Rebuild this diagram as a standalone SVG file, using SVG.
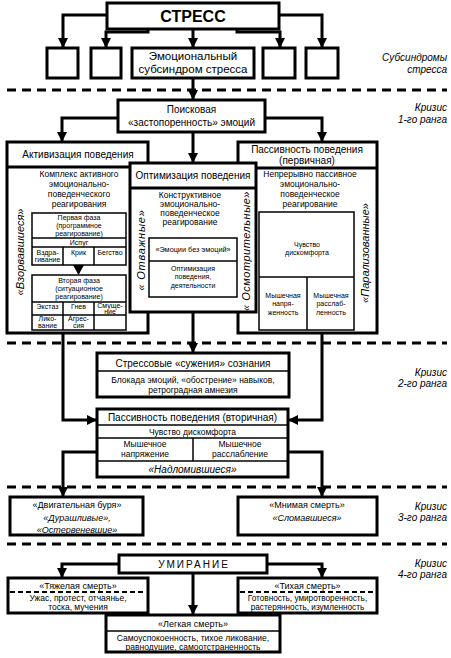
<svg xmlns="http://www.w3.org/2000/svg" width="451" height="658" viewBox="0 0 451 658">
<style>
.b{fill:#fff;stroke:#000;stroke-width:3}
.t{fill:none;stroke:#000;stroke-width:1.5}
.c{fill:none;stroke:#000;stroke-width:3}
.d{fill:none;stroke:#000;stroke-width:3;stroke-dasharray:9 6}
.sd{fill:none;stroke:#000;stroke-width:2;stroke-dasharray:5 3}
text{font-family:"Liberation Sans",Arial,sans-serif;fill:#000}
.m{text-anchor:middle}
.i{font-style:italic}
.r{text-anchor:end;font-style:italic;font-size:10px}
.f10{font-size:10px}
.f9{font-size:9px}
.f85{font-size:8.5px}
.f7{font-size:7px}
.v{font-size:11px;font-style:italic;text-anchor:middle}
</style>
<defs>
<marker id="a" markerUnits="userSpaceOnUse" markerWidth="10" markerHeight="10" refX="9" refY="5" orient="auto"><path d="M0,0 L10,5 L0,10 z" fill="#000"/></marker>
</defs>

<!-- dashed separators -->
<g id="separators">
<line class="d" x1="7" y1="90" x2="447" y2="90"/>
<line class="d" x1="7" y1="343" x2="447" y2="343"/>
<line class="d" x1="7" y1="487" x2="447" y2="487"/>
<line class="d" x1="7" y1="544" x2="447" y2="544"/>
</g>

<!-- level labels -->
<g id="labels">
<text class="r" x="447" y="61">Субсиндромы</text>
<text class="r" x="447" y="73">стресса</text>
<text class="r" x="447" y="111">Кризис</text>
<text class="r" x="447" y="123">1-го ранга</text>
<text class="r" x="447" y="376">Кризис</text>
<text class="r" x="447" y="387">2-го ранга</text>
<text class="r" x="447" y="510">Кризис</text>
<text class="r" x="447" y="521">3-го ранга</text>
<text class="r" x="447" y="567">Кризис</text>
<text class="r" x="447" y="578">4-го ранга</text>
</g>

<!-- connectors -->
<g id="connectors">
<path class="c" d="M107,15 H63 V47" marker-end="url(#a)"/>
<path class="c" d="M148,29 V32 H106 V47" marker-end="url(#a)"/>
<path class="c" d="M193,29 V47" marker-end="url(#a)"/>
<path class="c" d="M237,29 V32 H280 V47" marker-end="url(#a)"/>
<path class="c" d="M279,15 H322 V47" marker-end="url(#a)"/>
<path class="c" d="M193,78 V99" marker-end="url(#a)"/>
<path class="c" d="M118,118 H62 V141" marker-end="url(#a)"/>
<path class="c" d="M265,118 H322 V141" marker-end="url(#a)"/>
<path class="c" d="M193,132 V162" marker-end="url(#a)"/>
<path class="c" d="M193,312 V352" marker-end="url(#a)"/>
<path class="c" d="M63,330 V420 H96" marker-end="url(#a)"/>
<path class="c" d="M322,330 V420 H289" marker-end="url(#a)"/>
<path class="c" d="M97,452 H63 V496" marker-end="url(#a)"/>
<path class="c" d="M288,452 H322 V496" marker-end="url(#a)"/>
<path class="c" d="M119,564 H62 V577" marker-end="url(#a)"/>
<path class="c" d="M267,564 H322 V577" marker-end="url(#a)"/>
<path class="c" d="M193,573 V614" marker-end="url(#a)"/>
</g>

<g id="stress">
<rect class="b" x="107" y="3" width="172" height="26"/>
<text class="m" x="193" y="22" font-size="16" font-weight="bold">СТРЕСС</text>
</g>
<g id="sub1"><rect class="b" x="47" y="48" width="31" height="30"/></g>
<g id="sub2"><rect class="b" x="91" y="48" width="30" height="30"/></g>
<g id="sub-emo">
<rect class="b" x="132" y="48" width="122" height="30"/>
<text class="m" x="193" y="60" font-size="11.5">Эмоциональный</text>
<text class="m" x="193" y="73" font-size="11.5">субсиндром стресса</text>
</g>
<g id="sub4"><rect class="b" x="263" y="48" width="32" height="30"/></g>
<g id="sub5"><rect class="b" x="306" y="48" width="32" height="30"/></g>

<g id="search">
<rect class="b" x="118" y="100" width="147" height="32"/>
<text class="m f10" x="191.5" y="113">Поисковая</text>
<text class="m f10" x="191.5" y="126">«застопоренность» эмоций</text>
</g>

<g id="activation">
<rect class="b" x="7" y="142" width="141" height="191"/>
<line class="c" x1="7" y1="167" x2="148" y2="167"/>
<text class="m f10" x="78" y="158">Активизация поведения</text>
<text class="m f85" x="79" y="177">Комплекс активного</text>
<text class="m f85" x="79" y="187">эмоционально-</text>
<text class="m f85" x="79" y="197">поведенческого</text>
<text class="m f85" x="79" y="207">реагирования</text>
<text class="v" transform="translate(24,252) rotate(-90)">«Взорвавшиеся»</text>
<rect class="t" x="32" y="213" width="94" height="52" stroke-width="2"/>
<line class="t" x1="32" y1="238" x2="126" y2="238"/>
<line class="t" x1="32" y1="247" x2="126" y2="247"/>
<line class="t" x1="63" y1="247" x2="63" y2="265"/>
<line class="t" x1="94" y1="247" x2="94" y2="265"/>
<text class="m f7" x="79" y="220">Первая фаза</text>
<text class="m f7" x="79" y="228">(программное</text>
<text class="m f7" x="79" y="236">реагирование)</text>
<text class="m f7" x="79" y="245">Испуг</text>
<text class="m f7" x="47.5" y="255">Вздра-</text>
<text class="m f7" x="47.5" y="262">гивание</text>
<text class="m f7" x="78.5" y="255">Крик</text>
<text class="m f7" x="110" y="255">Бегство</text>
<polygon points="73,265 84,265 78.5,275" fill="#000"/>
<rect class="t" x="32" y="275" width="94" height="55" stroke-width="2"/>
<line class="t" x1="32" y1="302" x2="126" y2="302"/>
<line class="t" x1="32" y1="315" x2="126" y2="315"/>
<line class="t" x1="63" y1="302" x2="63" y2="330"/>
<line class="t" x1="94" y1="302" x2="94" y2="330"/>
<text class="m f7" x="79" y="283">Вторая фаза</text>
<text class="m f7" x="79" y="291">(ситуационное</text>
<text class="m f7" x="79" y="299">реагирование)</text>
<text class="m f7" x="47.5" y="309">Экстаз</text>
<text class="m f7" x="78.5" y="309">Гнев</text>
<text class="m f7" x="110" y="308">Смуще-</text>
<text class="m f7" x="110" y="314">ние</text>
<text class="m f7" x="47.5" y="321">Лико-</text>
<text class="m f7" x="47.5" y="328">вание</text>
<text class="m f7" x="78.5" y="321">Агрес-</text>
<text class="m f7" x="78.5" y="328">сия</text>
</g>

<g id="passive1">
<rect class="b" x="238" y="142" width="139" height="191"/>
<line class="c" x1="238" y1="168" x2="377" y2="168"/>
<text class="m f10" x="307" y="153">Пассивность поведения</text>
<text class="m f10" x="307" y="163.5">(первичная)</text>
<text class="m f85" x="310" y="177">Непрерывно пассивное</text>
<text class="m f85" x="310" y="187">эмоционально-</text>
<text class="m f85" x="310" y="197">поведенческое</text>
<text class="m f85" x="310" y="207">реагирование</text>
<text class="v" transform="translate(369,253) rotate(-90)">«Парализованные»</text>
<rect class="t" x="259" y="212" width="95" height="118" stroke-width="2"/>
<line class="t" x1="259" y1="277" x2="354" y2="277" stroke-width="2"/>
<line class="t" x1="307" y1="277" x2="307" y2="330"/>
<text class="m f7" x="307" y="247">Чувство</text>
<text class="m f7" x="307" y="255">дискомфорта</text>
<text class="m f7" x="283" y="298">Мышечная</text>
<text class="m f7" x="283" y="306">напря-</text>
<text class="m f7" x="283" y="315">женность</text>
<text class="m f7" x="331" y="298">Мышечная</text>
<text class="m f7" x="331" y="306">расслаб-</text>
<text class="m f7" x="331" y="315">ленность</text>
</g>

<g id="optimization">
<rect class="b" x="130" y="163" width="126" height="149"/>
<line class="c" x1="130" y1="188" x2="256" y2="188"/>
<text class="m f10" x="193" y="179">Оптимизация поведения</text>
<text class="m f85" x="190" y="198">Конструктивное</text>
<text class="m f85" x="190" y="207">эмоционально-</text>
<text class="m f85" x="190" y="216">поведенческое</text>
<text class="m f85" x="190" y="225">реагирование</text>
<text class="v" transform="translate(145,250) rotate(-90)" letter-spacing="0.8">« Отважные»</text>
<text class="v" transform="translate(250,251) rotate(-90)" letter-spacing="0.5">« Осмотрительные»</text>
<rect class="t" x="149" y="238" width="88" height="59" stroke-width="2"/>
<line class="t" x1="149" y1="261" x2="237" y2="261" stroke-width="2"/>
<text class="m" x="193" y="252" font-size="7.3">«Эмоции без эмоций»</text>
<text class="m f7" x="193" y="271">Оптимизация</text>
<text class="m f7" x="193" y="279">поведения,</text>
<text class="m f7" x="193" y="288">деятельности</text>
</g>

<g id="narrowing">
<rect class="b" x="97" y="353" width="192" height="44" stroke-width="3.5"/>
<line class="t" x1="97" y1="371" x2="289" y2="371"/>
<text class="m f10" x="193" y="367">Стрессовые «сужения» сознания</text>
<text class="m f85" x="193" y="383">Блокада эмоций, «обострение» навыков,</text>
<text class="m f85" x="193" y="393">ретроградная амнезия</text>
</g>

<g id="passive2">
<rect class="b" x="97" y="409" width="191" height="68" stroke-width="3.5"/>
<line class="t" x1="97" y1="425" x2="288" y2="425"/>
<line class="t" x1="97" y1="438" x2="288" y2="438"/>
<line class="t" x1="97" y1="461" x2="288" y2="461"/>
<line class="t" x1="193" y1="438" x2="193" y2="461"/>
<text class="m f10" x="192.5" y="421">Пассивность поведения (вторичная)</text>
<text class="m f85" x="192.5" y="435">Чувство дискомфорта</text>
<text class="m f85" x="145" y="447">Мышечное</text>
<text class="m f85" x="145" y="457">напряжение</text>
<text class="m f85" x="240" y="447">Мышечное</text>
<text class="m f85" x="240" y="457">расслабление</text>
<text class="m i f10" x="192.5" y="473">«Надломившиеся»</text>
</g>

<g id="storm">
<rect class="b" x="10" y="497" width="133" height="38"/>
<text class="m f9" x="77" y="508">«Двигательная буря»</text>
<text class="m i f9" x="77" y="521">«Дурашливые»,</text>
<text class="m i f9" x="77" y="533">«Остервеневшие»</text>
</g>

<g id="imaginary">
<rect class="b" x="238" y="497" width="139" height="38"/>
<text class="m f9" x="307" y="508">«Мнимая смерть»</text>
<text class="m i f9" x="307" y="521">«Сломавшиеся»</text>
</g>

<g id="dying">
<rect class="b" x="119" y="555" width="148" height="18"/>
<text class="m f10" x="194" y="568" letter-spacing="2">УМИРАНИЕ</text>
</g>

<g id="heavy">
<rect class="b" x="8" y="578" width="140" height="35"/>
<line class="sd" x1="10" y1="592" x2="146" y2="592"/>
<text class="m f9" x="78" y="588.5">«Тяжелая смерть»</text>
<text class="m f85" x="78" y="600.5">Ужас, протест, отчаянье,</text>
<text class="m f85" x="78" y="609.5">тоска, мучения</text>
</g>

<g id="quiet">
<rect class="b" x="238" y="578" width="139" height="35"/>
<line class="sd" x1="240" y1="592" x2="375" y2="592"/>
<text class="m f9" x="307.5" y="588.5">«Тихая смерть»</text>
<text class="m" x="307.5" y="600.5" font-size="8.2">Готовность, умиротворенность,</text>
<text class="m" x="307.5" y="609.5" font-size="8.2">растерянность, изумленность</text>
</g>

<g id="easy">
<rect class="b" x="106" y="615" width="174" height="37"/>
<line class="t" x1="106" y1="631" x2="280" y2="631" stroke-width="2"/>
<text class="m f9" x="193" y="627">«Легкая смерть»</text>
<text class="m f85" x="193" y="641">Самоуспокоенность, тихое ликование,</text>
<text class="m f85" x="193" y="650">равнодушие, самоотстраненность</text>
</g>
</svg>
